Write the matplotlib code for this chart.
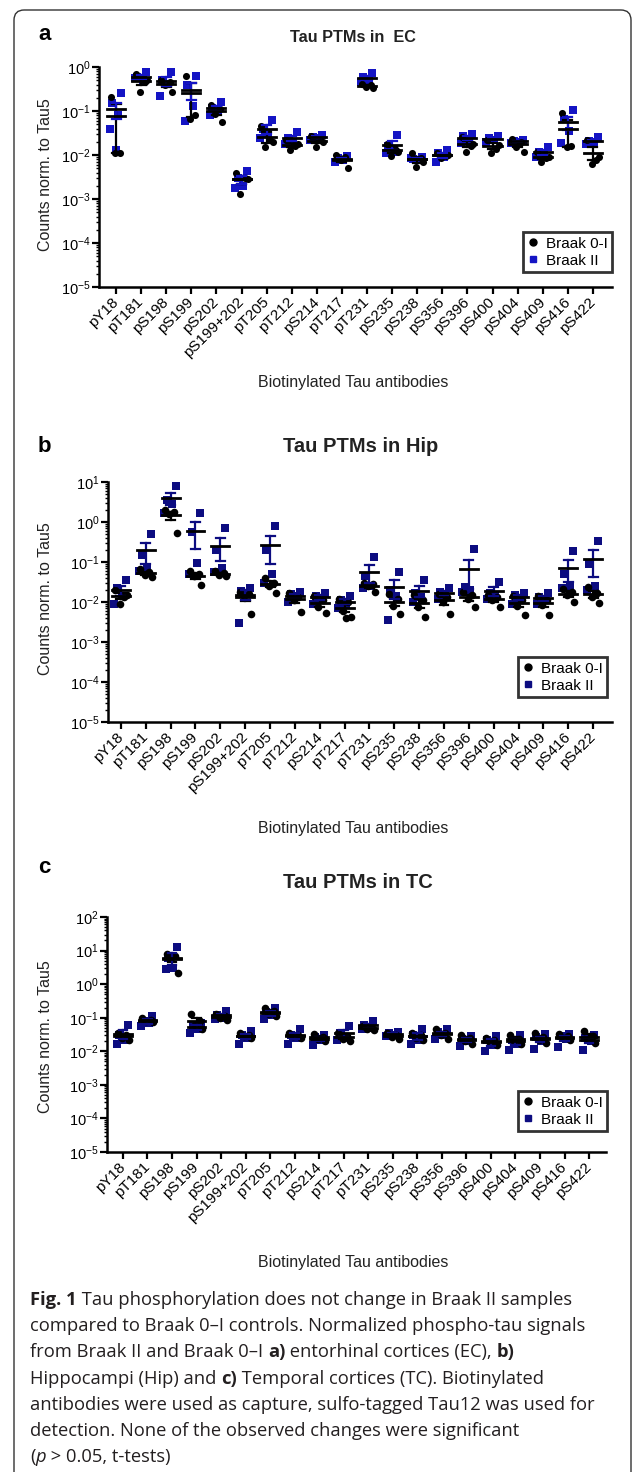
import numpy as np
import matplotlib.pyplot as plt
from matplotlib.patches import FancyBboxPatch
from matplotlib.lines import Line2D
from matplotlib.ticker import LogLocator, NullFormatter

# figure size in pixels (dpi 100)
W, H = 633, 1472

antibodies = ['pY18', 'pT181', 'pS198', 'pS199', 'pS202', 'pS199+202', 'pT205',
              'pT212', 'pS214', 'pT217', 'pT231', 'pS235', 'pS238', 'pS356',
              'pS396', 'pS400', 'pS404', 'pS409', 'pS416', 'pS422']

# a) entorhinal cortex, counts normalised to Tau5
ec_braak01 = [
    [0.21, 0.011, 0.011], [0.70, 0.45, 0.27, 0.50], [0.50, 0.45, 0.40, 0.27],
    [0.62, 0.08, 0.065], [0.14, 0.11, 0.085, 0.057], [0.004, 0.003, 0.0013, 0.0028],
    [0.046, 0.022, 0.015, 0.020], [0.022, 0.016, 0.013, 0.018], [0.027, 0.022, 0.015, 0.020],
    [0.010, 0.009, 0.0075, 0.005], [0.42, 0.38, 0.35, 0.33], [0.018, 0.013, 0.0095, 0.012],
    [0.011, 0.0085, 0.0053, 0.007], [0.011, 0.0095, 0.0085, 0.010], [0.025, 0.016, 0.012, 0.018],
    [0.022, 0.014, 0.011, 0.017], [0.023, 0.020, 0.015, 0.012], [0.012, 0.0085, 0.007, 0.009],
    [0.088, 0.016, 0.015], [0.022, 0.0075, 0.0063, 0.009],
]
ec_braak2 = [
    [0.26, 0.15, 0.08, 0.04, 0.013], [0.75, 0.60, 0.50, 0.55], [0.75, 0.50, 0.42, 0.22],
    [0.62, 0.40, 0.13, 0.06], [0.16, 0.12, 0.10, 0.08], [0.0044, 0.003, 0.002, 0.0018],
    [0.062, 0.040, 0.030, 0.024], [0.033, 0.024, 0.020, 0.018], [0.029, 0.026, 0.024, 0.022],
    [0.0095, 0.0085, 0.0078, 0.007], [0.72, 0.60, 0.50, 0.45], [0.028, 0.016, 0.012, 0.011],
    [0.009, 0.008, 0.0078, 0.0085], [0.013, 0.011, 0.009, 0.007], [0.030, 0.027, 0.022, 0.019],
    [0.027, 0.024, 0.022, 0.020], [0.022, 0.021, 0.020, 0.019], [0.015, 0.012, 0.010, 0.009],
    [0.105, 0.065, 0.035, 0.019], [0.025, 0.021, 0.020, 0.018],
]

# b) hippocampus
hip_braak01 = [
    [0.020, 0.013, 0.009, 0.015], [0.065, 0.055, 0.048, 0.042], [2.0, 1.8, 1.6, 0.53],
    [0.060, 0.050, 0.045, 0.026], [0.060, 0.052, 0.047, 0.044], [0.018, 0.016, 0.014, 0.005],
    [0.040, 0.030, 0.025, 0.017], [0.017, 0.013, 0.011, 0.0055], [0.014, 0.011, 0.0075, 0.0053],
    [0.012, 0.010, 0.006, 0.0042, 0.004], [0.030, 0.028, 0.025, 0.018], [0.016, 0.012, 0.008, 0.005],
    [0.015, 0.011, 0.0075, 0.0042], [0.016, 0.013, 0.010, 0.005], [0.018, 0.015, 0.012, 0.0075],
    [0.015, 0.013, 0.011, 0.0075], [0.014, 0.011, 0.008, 0.0047], [0.014, 0.011, 0.0085, 0.0048],
    [0.021, 0.018, 0.015, 0.010], [0.024, 0.017, 0.013, 0.0095],
]
hip_braak2 = [
    [0.035, 0.022, 0.014, 0.009], [0.50, 0.15, 0.07, 0.06], [8.0, 3.5, 2.8, 1.7],
    [1.7, 0.55, 0.095, 0.05], [0.70, 0.20, 0.07, 0.055], [0.023, 0.019, 0.016, 0.003],
    [0.80, 0.20, 0.05, 0.03], [0.018, 0.016, 0.014, 0.010], [0.017, 0.014, 0.012, 0.009],
    [0.014, 0.011, 0.009, 0.007], [0.135, 0.045, 0.025, 0.022], [0.057, 0.020, 0.014, 0.0035],
    [0.036, 0.017, 0.013, 0.010], [0.023, 0.018, 0.015, 0.012], [0.21, 0.024, 0.020, 0.018],
    [0.032, 0.017, 0.014, 0.012], [0.017, 0.015, 0.012, 0.009], [0.017, 0.013, 0.011, 0.009],
    [0.19, 0.05, 0.025, 0.022], [0.34, 0.09, 0.025, 0.020],
]

# c) temporal cortex
tc_braak01 = [
    [0.035, 0.030, 0.025, 0.022], [0.095, 0.085, 0.080, 0.075], [8.0, 7.0, 6.0, 2.2],
    [0.13, 0.08, 0.06, 0.046], [0.13, 0.11, 0.10, 0.088], [0.035, 0.030, 0.028, 0.025],
    [0.20, 0.16, 0.13, 0.11], [0.036, 0.030, 0.028, 0.025], [0.032, 0.027, 0.024, 0.020],
    [0.035, 0.028, 0.024, 0.020], [0.055, 0.050, 0.047, 0.044], [0.035, 0.030, 0.026, 0.023],
    [0.035, 0.030, 0.025, 0.022], [0.045, 0.035, 0.030, 0.024], [0.031, 0.025, 0.020, 0.016],
    [0.025, 0.021, 0.018, 0.015], [0.031, 0.024, 0.020, 0.016], [0.034, 0.026, 0.022, 0.018],
    [0.032, 0.028, 0.025, 0.022], [0.040, 0.028, 0.022, 0.018],
]
tc_braak2 = [
    [0.060, 0.030, 0.022, 0.017], [0.11, 0.08, 0.07, 0.055], [13.0, 6.0, 3.0, 2.8],
    [0.07, 0.055, 0.045, 0.036], [0.16, 0.12, 0.10, 0.09], [0.040, 0.030, 0.025, 0.017],
    [0.19, 0.15, 0.12, 0.09], [0.045, 0.030, 0.025, 0.016], [0.030, 0.026, 0.022, 0.015],
    [0.055, 0.035, 0.025, 0.022], [0.080, 0.060, 0.050, 0.045], [0.038, 0.034, 0.030, 0.028],
    [0.047, 0.030, 0.022, 0.017], [0.045, 0.038, 0.030, 0.023], [0.028, 0.024, 0.020, 0.014],
    [0.028, 0.022, 0.015, 0.010], [0.030, 0.022, 0.016, 0.011], [0.033, 0.026, 0.020, 0.012],
    [0.033, 0.028, 0.023, 0.013], [0.030, 0.025, 0.020, 0.011],
]

plt.rcParams['font.family'] = ['Liberation Sans', 'DejaVu Sans']
plt.rcParams['mathtext.fontset'] = 'custom'
plt.rcParams['mathtext.rm'] = 'Liberation Sans'
plt.rcParams['mathtext.it'] = 'Liberation Sans:italic'

fig = plt.figure(figsize=(W / 100, H / 100), dpi=100)

# rounded frame round the figure (bottom runs off the page)
frame = FancyBboxPatch((14 / W, -0.05), (631 - 14) / W, 1 - 10 / H + 0.05,
                       boxstyle='round,pad=0,rounding_size=0.016', transform=fig.transFigure,
                       fill=False, ec='#333333', lw=1.0, mutation_aspect=W / H)
fig.patches.append(frame)

# jitter pattern for the dots inside a column
off_black = np.array([-0.22, 0.14, -0.05, 0.24, 0.05])
off_blue = np.array([0.20, -0.16, 0.06, -0.26, -0.02])


def fx(x):
    return x / W


def fy(y):
    return 1 - y / H


def draw_panel(box, ydec, xlim, black_vals, blue_vals, blue, title, tpos, tsize,
               letter, lpos, ylab_y, xlab_y, legbox, msize=26):
    x0, y0, x1, y1 = box
    ax = fig.add_axes([fx(x0), fy(y1), (x1 - x0) / W, (y1 - y0) / H])
    ax.set_yscale('log')
    ax.set_ylim(10.0 ** ydec[0], 10.0 ** ydec[1])
    ax.set_xlim(*xlim)
    lo = 10.0 ** ydec[0]

    for i, (g1, g2) in enumerate(zip(black_vals, blue_vals)):
        ax.scatter(i + off_blue[:len(g2)], g2, s=msize, marker='s', color=blue, lw=0, zorder=3)
        ax.scatter(i + off_black[:len(g1)], g1, s=msize, marker='o', color='black', lw=0, zorder=3)
        for g, col in ((g1, 'black'), (g2, blue)):
            m = np.mean(g)
            se = np.std(g, ddof=1) / np.sqrt(len(g))
            bot = max(m - se, lo)
            ax.plot([i, i], [bot, m + se], color=col, lw=1.6, zorder=4)
            ax.plot([i - 0.18, i + 0.18], [m + se, m + se], color=col, lw=1.6, zorder=4)
            ax.plot([i - 0.18, i + 0.18], [bot, bot], color=col, lw=1.6, zorder=4)
            ax.plot([i - 0.36, i + 0.36], [m, m], color='black', lw=2.0, zorder=5)

    for s in ('top', 'right'):
        ax.spines[s].set_visible(False)
    for s in ('left', 'bottom'):
        ax.spines[s].set_linewidth(1.8)
    ax.yaxis.set_major_locator(LogLocator(base=10, numticks=20))
    ax.yaxis.set_minor_locator(LogLocator(base=10, subs=np.arange(2, 10), numticks=20))
    ax.yaxis.set_minor_formatter(NullFormatter())
    ax.tick_params(axis='y', which='major', length=5, width=1.6, labelsize=10.5, pad=1)
    ax.tick_params(axis='y', which='minor', length=2.5, width=1.0)
    ax.tick_params(axis='x', length=5, width=1.6, pad=4)
    ax.set_xticks(range(len(antibodies)))
    ax.set_xticklabels(antibodies, rotation=45, ha='right', va='center',
                       rotation_mode='anchor', fontsize=11)

    fig.text(fx(tpos[0]), fy(tpos[1]), title, ha='center', va='center',
             fontsize=tsize, fontweight='bold', color='#222222')
    fig.text(fx(lpos[0]), fy(lpos[1]), letter, ha='left', va='center',
             fontsize=16, fontweight='bold')
    fig.text(fx(46), fy(ylab_y), 'Counts norm. to Tau5', rotation=90,
             ha='center', va='center', fontsize=11.5, color='#222222')
    fig.text(fx(353), fy(xlab_y), 'Biotinylated Tau antibodies', ha='center',
             va='center', fontsize=11.5, color='#222222')

    handles = [Line2D([], [], marker='o', ls='', color='black', markersize=5),
               Line2D([], [], marker='s', ls='', color=blue, markersize=5)]
    leg = fig.legend(handles, ['Braak 0-I', 'Braak II'], loc='upper right',
                     bbox_to_anchor=(fx(legbox[0]), fy(legbox[1])), borderaxespad=0,
                     fontsize=11, frameon=True, fancybox=False, handlelength=0.8,
                     handletextpad=0.4, borderpad=0.3, labelspacing=0.2)
    leg.get_frame().set_edgecolor('black')
    leg.get_frame().set_linewidth(2.0)
    return ax


draw_panel((99, 67, 612, 287), (-5, 0), (-0.68, 19.76), ec_braak01, ec_braak2, '#1414c4',
           'Tau PTMs in  EC', (353, 37), 11.7, 'a', (38, 35), 175, 383, (612, 232))
draw_panel((108, 482, 612, 722), (-5, 1), (-0.52, 19.76), hip_braak01, hip_braak2, '#0c0c80',
           'Tau PTMs in Hip', (361, 447), 14.5, 'b', (38, 447), 599, 828, (607, 657), msize=30)
draw_panel((107, 917, 606, 1152), (-5, 2), (-0.65, 19.69), tc_braak01, tc_braak2, '#0c0c80',
           'Tau PTMs in TC', (358, 882), 14.5, 'c', (38, 867), 1037, 1262, (607, 1091), msize=30)

# caption with mixed bold / italic pieces
cap_lines = [
    [('Fig. 1', 'bold'), (' Tau phosphorylation does not change in Braak II samples', 'normal')],
    [('compared to Braak 0\u2013I controls. Normalized phospho-tau signals', 'normal')],
    [('from Braak II and Braak 0\u2013I ', 'normal'), ('a)', 'bold'),
     (' entorhinal cortices (EC), ', 'normal'), ('b)', 'bold')],
    [('Hippocampi (Hip) and ', 'normal'), ('c)', 'bold'),
     (' Temporal cortices (TC). Biotinylated', 'normal')],
    [('antibodies were used as capture, sulfo-tagged Tau12 was used for', 'normal')],
    [('detection. None of the observed changes were significant', 'normal')],
    [('(', 'normal'), ('p', 'italic'), (' > 0.05, t-tests)', 'normal')],
]
renderer = fig.canvas.get_renderer()
base_y = 1305
for n, parts in enumerate(cap_lines):
    x = 30
    for txt, style in parts:
        t = fig.text(fx(x), fy(base_y + n * 26.2), txt, va='baseline', ha='left',
                     fontsize=13.2, family=['Open Sans', 'DejaVu Sans'], color='#231f20',
                     fontweight='bold' if style == 'bold' else 'normal',
                     fontstyle='italic' if style == 'italic' else 'normal')
        x += t.get_window_extent(renderer).width

fig.savefig('out.png', dpi=100)
